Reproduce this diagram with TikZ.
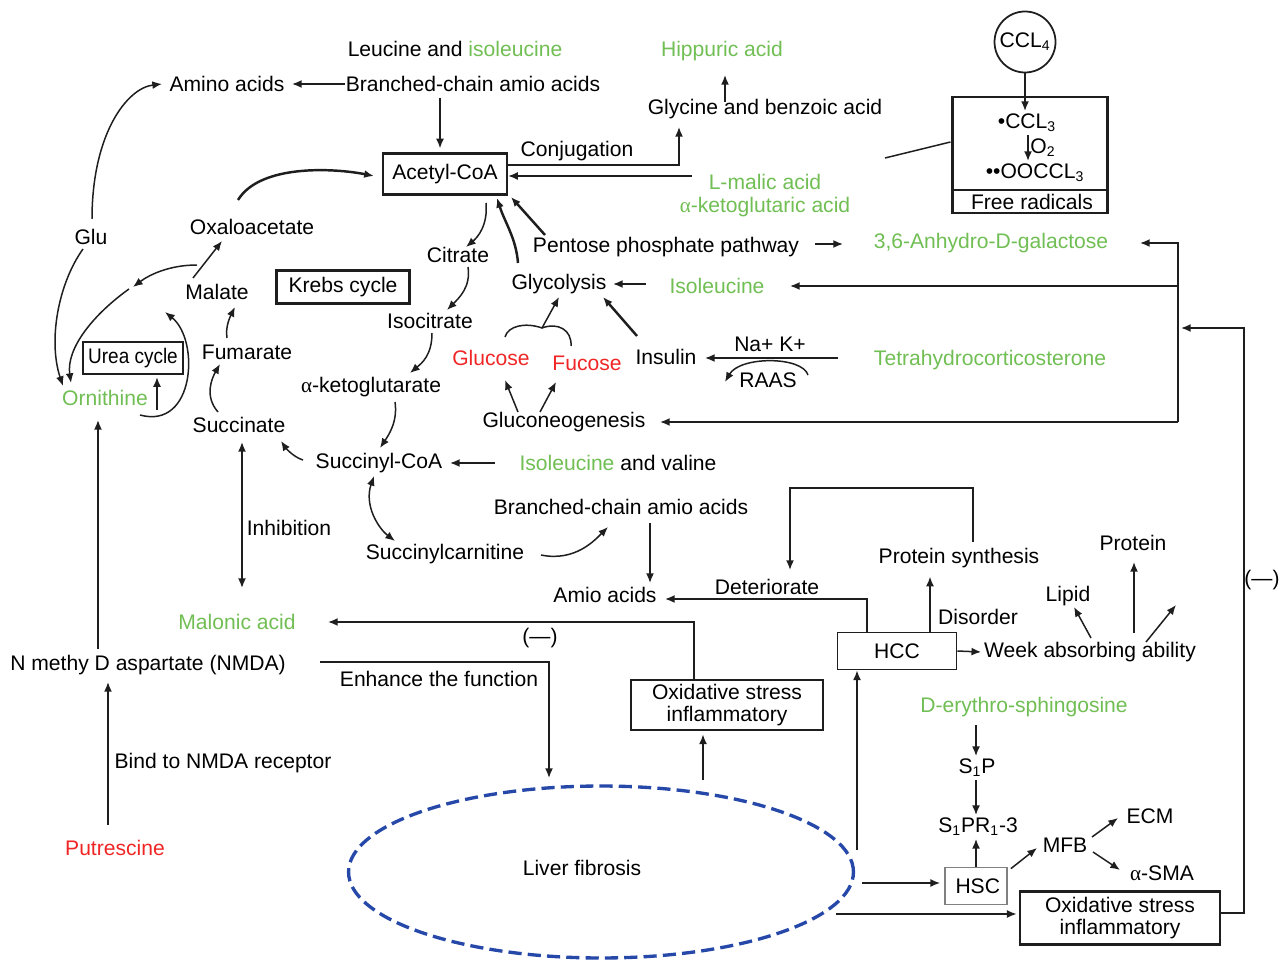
\documentclass[tikz,border=0pt]{standalone}
\usepackage{fontspec}
\setmainfont{Liberation Sans}
\newfontfamily\grk{Liberation Serif}
\usepackage{tikz}
\usetikzlibrary{shapes.geometric,arrows.meta,positioning,calc}
\definecolor{fibgreen}{RGB}{112,190,84}
\definecolor{fibred}{RGB}{240,38,38}
\definecolor{fibblue}{RGB}{38,72,168}
\definecolor{fibdark}{RGB}{30,30,30}

\begin{document}
\begin{tikzpicture}[
    x=0.02cm, y=-0.02cm,
    font=\fontsize{12}{12.5}\selectfont,
    every node/.style={align=center, inner sep=1.5pt},
    grn/.style={text=fibgreen},
    rd/.style={text=fibred},
    frame/.style={rectangle, draw=fibdark, line width=1.3pt, inner sep=0pt},
    oxbox/.style={rectangle, draw=fibdark, line width=1.6pt, minimum width=3.84cm, minimum height=1.0cm, inner sep=0pt},
    thinbox/.style={rectangle, draw=fibdark, line width=1pt, inner sep=0pt},
    arr/.style={-{Latex[length=5.5pt,width=4.5pt]}, line width=0.85pt, draw=fibdark},
    barr/.style={arr, line width=1.4pt},
    darr/.style={{Latex[length=5.5pt,width=4.5pt]}-{Latex[length=5.5pt,width=4.5pt]}, line width=0.85pt, draw=fibdark},
    ln/.style={line width=0.85pt, draw=fibdark}
]
    \useasboundingbox (0,0) rectangle (1287,962);

    \node (leu) at (455,49) {Leucine and \textcolor{fibgreen}{isoleucine}};
    \node (bcaa) at (473,84) {Branched-chain amio acids};
    \node (amino) at (227,84) {Amino acids};
    \node[frame, minimum width=2.48cm, minimum height=0.82cm] (acoa) at (445,174) {Acetyl-CoA};
    \node[grn] (hipp) at (722,51) {Hippuric acid};
    \node (glyb) at (765,109) {Glycine and benzoic acid};
    \node (conj) at (577,151) {Conjugation};
    \node[grn] (lmal) at (765,182) {L-malic acid};
    \node[grn] (akg2) at (765,207) {{\grk α}-ketoglutaric acid};

    \node[circle, draw=fibdark, line width=1pt, minimum size=1.22cm, inner sep=0pt] (ccl4) at (1025,42) {CCL\textsubscript{4}};
    \node[frame, line width=1.2pt, minimum width=3.1cm, minimum height=2.32cm] (frbox) at (1030,155) {};
    \node (ccl3) at (1027,123) {\textbullet CCL\textsubscript{3}};
    \node (o2) at (1043,148) {O\textsubscript{2}};
    \node (oocl) at (1035,173) {\textbullet\textbullet OOCCL\textsubscript{3}};
    \node (frlab) at (1032,202) {Free radicals};
    \coordinate (frtail) at (885,158);

    \node (ppp) at (666,247) {Pentose phosphate pathway};
    \node[grn] (anhy) at (991,243) {3,6-Anhydro-D-galactose};
    \node (oxa) at (252,227) {Oxaloacetate};
    \node (glu) at (91,237) {Glu};
    \node (citr) at (458,255) {Citrate};
    \node[frame, minimum width=2.66cm, minimum height=0.66cm] (krebs) at (343,287) {Krebs cycle};
    \node (mal) at (217,292) {Malate};
    \node (glyc) at (559,284) {Glycolysis};
    \node[grn] (isoR) at (717,286) {Isoleucine};
    \node (isoc) at (430,321) {Isocitrate};
    \node[frame, minimum width=2.0cm, minimum height=0.64cm] (urea) at (133,358) {\scalebox{0.9}[1]{Urea cycle}};
    \node (fum) at (247,352) {Fumarate};
    \node[rd] (gluc) at (491,358) {Glucose};
    \node[rd] (fuc) at (587,363) {Fucose};
    \node (ins) at (666,357) {Insulin};
    \node (nak) at (770,344) {Na+ K+};
    \node (raas) at (768,380) {RAAS};
    \node[grn] (tetra) at (990,360) {Tetrahydrocorticosterone};
    \node (akg) at (371,387) {{\grk α}-ketoglutarate};
    \node[grn] (orni) at (105,398) {Ornithine};
    \node (gluco) at (564,422) {Gluconeogenesis};
    \node (succ) at (239,425) {Succinate};
    \node (succoa) at (379,463) {Succinyl-CoA};
    \node (iv) at (618,463) {\textcolor{fibgreen}{Isoleucine} and valine};
    \node (bcaa2) at (621,507) {Branched-chain amio acids};
    \node (inhib) at (289,528) {Inhibition};
    \node (succarn) at (445,554) {Succinylcarnitine};
    \node (amio) at (605,595) {Amio acids};
    \node (deter) at (767,587) {Deteriorate};
    \node (psyn) at (959,558) {Protein synthesis};
    \node (prot) at (1133,543) {Protein};
    \node (lipid) at (1068,596) {Lipid};
    \node (disord) at (978,617) {Disorder};
    \node[thinbox, minimum width=2.38cm, minimum height=0.74cm] (hcc) at (897,651) {HCC};
    \node (week) at (1090,652) {Week absorbing ability};
    \node[grn] (malon) at (237,622) {Malonic acid};
    \node (neg1) at (540,638) {(—)};
    \node (nmda) at (148,665) {N methy D aspartate (NMDA)};
    \node (enh) at (439,679) {Enhance the function};
    \node[oxbox] (ox1) at (727,705) {Oxidative stress\\inflammatory};
    \node[grn] (sph) at (1024,707) {D-erythro-sphingosine};
    \node (bind) at (223,763) {Bind to NMDA receptor};
    \node (s1p) at (977,768) {S\textsubscript{1}P};
    \node (s1pr) at (978,827) {S\textsubscript{1}PR\textsubscript{1}-3};
    \node (ecm) at (1150,816) {ECM};
    \node (mfb) at (1065,845) {MFB};
    \node[rd] (putr) at (115,848) {Putrescine};
    \node[ellipse, draw=fibblue, line width=1.9pt, dash pattern=on 7.5pt off 3.5pt, minimum width=10.1cm, minimum height=3.44cm] (liver) at (601,872) {};
    \node (livlab) at (582,868) {Liver fibrosis};
    \node (asma) at (1162,873) {{\grk α}-SMA};
    \node[thinbox, draw=gray, minimum width=1.24cm, minimum height=0.74cm] (hsc) at (976,886) {\,HSC};
    \node[oxbox, minimum width=4.0cm, minimum height=1.06cm] (ox2) at (1120,918) {Oxidative stress\\inflammatory};
    \node (neg2) at (1262,580) {(—)};

    \coordinate (rbar) at (1178,243);
    \coordinate (rbar2) at (1244,328);
    \coordinate (brtop) at (790,488);
    \coordinate (ucorner) at ($(mal)+(-88,-3)$);

    % top
    \draw[arr] ($(bcaa)+(-128,0)$) -- ($(amino)+(65,0)$);
    \draw[arr] ($(bcaa)+(-33,14)$) -- ($(acoa.north)+(-5,-4)$);
    \draw[arr] ($(acoa.east)+(0,-9)$) -| ($(glyb)+(-86,18)$);
    \draw[arr] ($(glyb)+(-40,-7)$) -- ($(hipp)+(3,24)$);
    \draw[arr] ($(lmal)+(-73,-6)$) -- ($(acoa.east)+(0,2)$);
    \draw[ln] (frtail) -- ($(frbox.west)+(-1,-13)$);
    \draw[arr] (ccl4.south) -- (ccl4.south |- ccl3.north);
    \draw[arr] ($(ccl3.south)+(1,0)$) -- ($(oocl.north)+(-7,0)$);
    \draw[ln] ($(frbox.west)+(0,35)$) -- ($(frbox.east)+(0,35)$);
    \draw[arr] ($(ppp)+(149,-3)$) -- ($(anhy)+(-148,1)$);
    \draw[arr] (rbar |- gluco) -- (rbar) -- ($(anhy)+(149,0)$);
    \draw[arr] (rbar |- gluco) -- ($(gluco)+(96,0)$);
    \draw[arr] (rbar |- isoR) -- ($(isoR)+(73,0)$);
    \draw[arr] ($(ox2.east)+(0,-5)$) -| (rbar2) -- ($(rbar)+(3,85)$);

    % krebs cycle
    \draw[barr] ($(glyc)+(-41,-21)$) .. controls +(-2,-25) and +(8,25) .. ($(acoa)+(52,24)$);
    \draw[barr] ($(ppp)+(-121,-12)$) -- ($(acoa)+(66,23)$);
    \draw[arr] ($(acoa)+(41,29)$) .. controls +(2,22) and +(12,-10) .. ($(citr)+(8,-8)$);
    \draw[arr] ($(citr)+(10,12)$) .. controls +(3,20) and +(12,-12) .. ($(isoc)+(17,-11)$);
    \draw[arr] ($(isoc)+(2,12)$) .. controls +(0,22) and +(12,-10) .. ($(akg)+(39,-14)$);
    \draw[arr] ($(akg)+(24,15)$) .. controls +(3,20) and +(8,-12) .. ($(succoa)+(1,-15)$);
    \draw[arr] ($(succoa)+(-76,-3)$) .. controls +(-10,-3) and +(4,6) .. ($(succ)+(42,16)$);
    \draw[arr] ($(succ)+(-21,-13)$) .. controls +(-14,-16) and +(-8,14) .. ($(fum)+(-27,12)$);
    \draw[arr] ($(fum)+(-20,-14)$) .. controls +(-2,-12) and +(-4,8) .. ($(mal)+(18,15)$);
    \draw[arr] ($(mal)+(-24,-14)$) -- ($(oxa)+(-30,14)$);
    \draw[barr] ($(oxa)+(-14,-27)$) .. controls +(22,-36) and +(-40,-8) .. ($(acoa.west)+(-8,2)$);

    % urea cycle side
    \draw[arr] ($(mal)+(-20,-27)$) .. controls +(-28,0) and +(16,-12) .. ($(ucorner)+(4,-2)$);
    \draw[arr] (ucorner) .. controls +(-35,25) and +(-5,-35) .. ($(orni)+(-34,-15)$);
    \draw[arr] ($(glu)+(1,-18)$) .. controls +(0,-85) and +(-35,4) .. ($(amino)+(-65,0)$);
    \draw[arr] ($(glu)+(-8,12)$) .. controls +(-25,35) and +(-15,-45) .. ($(orni)+(-42,-12)$);
    \draw[arr] ($(orni)+(52,12)$) -- ($(urea.south)+(24,2)$);
    \draw[arr] ($(orni)+(35,17)$) .. controls +(55,15) and +(35,28) .. ($(urea)+(32,-46)$);
    \draw[arr] ($(nmda)+(-50,-16)$) -- ($(orni)+(-7,22)$);
    \draw[arr] ($(putr)+(-7,-23)$) -- ($(nmda)+(-40,17)$);
    \draw[darr] ($(succ)+(3,17)$) -- ($(malon)+(5,-34)$);

    % glycolysis
    \draw[arr] ($(isoR)+(-71,-2)$) -- ($(glyc)+(54,0)$);
    \draw[ln] ($(gluc)+(14,-21)$) .. controls +(3,-11) and +(-17,-6) .. ($(gluc)+(51,-30)$) coordinate (cusp)
        .. controls +(16,-6) and +(1,-16) .. ($(fuc)+(-16,-17)$);
    \draw[arr] (cusp) -- ($(glyc)+(0,13)$);
    \draw[barr] ($(ins)+(-29,-21)$) -- ($(glyc)+(44,13)$);
    \draw[arr] ($(tetra)+(-152,-2)$) -- ($(ins)+(39,1)$);
    \draw[arr] ($(raas)+(40,-5)$) .. controls +(-6,-19) and +(15,-26) .. ($(raas)+(-43,2)$);
    \draw[arr] ($(gluco)+(-46,-10)$) -- ($(gluc)+(14,22)$);
    \draw[arr] ($(gluco)+(-24,-10)$) -- ($(fuc)+(-31,19)$);
    \draw[arr] ($(iv)+(-123,0)$) -- ($(succoa)+(71,0)$);
    \draw[darr] ($(succoa)+(-5,13)$) .. controls +(-10,29) and +(-17,-13) .. ($(succarn)+(-50,-13)$);
    \draw[arr] ($(succarn)+(96,1)$) .. controls +(34,7) and +(-13,13) .. ($(bcaa2)+(-13,20)$);
    \draw[arr] ($(bcaa2)+(29,16)$) -- ($(amio)+(45,-12)$);

    % hcc
    \draw[arr] ($(hcc.north)+(-30,0)$) |- ($(amio)+(60,4)$);
    \draw[arr] ($(hcc.north)+(33,0)$) -- ($(hcc.north)+(33,-55)$);
    \draw[arr] ($(psyn)+(14,-16)$) |- (brtop) -- ($(deter)+(23,-17)$);
    \draw[arr] (hcc.east) -- (week.west);
    \draw[arr] ($(week)+(1,-14)$) -- ($(lipid)+(6,11)$);
    \draw[arr] ($(week)+(44,-19)$) -- ($(prot)+(1,19)$);
    \draw[arr] ($(week)+(56,-10)$) -- ($(week)+(86,-47)$);

    % liver fibrosis
    \draw[arr] ($(ox1.north)+(-33,0)$) |- ($(malon)+(91,0)$);
    \draw[arr] ($(nmda)+(172,-3)$) -| ($(liver)+(-52,-94)$);
    \draw[arr] ($(liver)+(102,-92)$) -- ($(ox1.south)+(-24,3)$);
    \draw[arr] ($(liver)+(256,-22)$) -- ($(hcc.south)+(-40,0)$);
    \draw[arr] ($(liver)+(261,11)$) -- ($(hsc.west)+(-4,-3)$);
    \draw[arr] ($(liver)+(235,42)$) -- ($(ox2.west)+(-2,-4)$);
    \draw[arr] ($(sph)+(-48,18)$) -- ($(s1p.north)+(-1,0)$);
    \draw[arr] ($(s1p.south)+(-1,0)$) -- ($(s1pr.north)+(-2,0)$);
    \draw[arr] (hsc.north) -- (hsc.north |- s1pr.south);
    \draw[arr] ($(hsc.north east)+(3,2)$) -- ($(mfb)+(-28,3)$);
    \draw[arr] ($(mfb)+(27,-8)$) -- ($(ecm)+(-32,2)$);
    \draw[arr] ($(mfb)+(28,7)$) -- ($(asma)+(-42,-3)$);
\end{tikzpicture}
\end{document}
